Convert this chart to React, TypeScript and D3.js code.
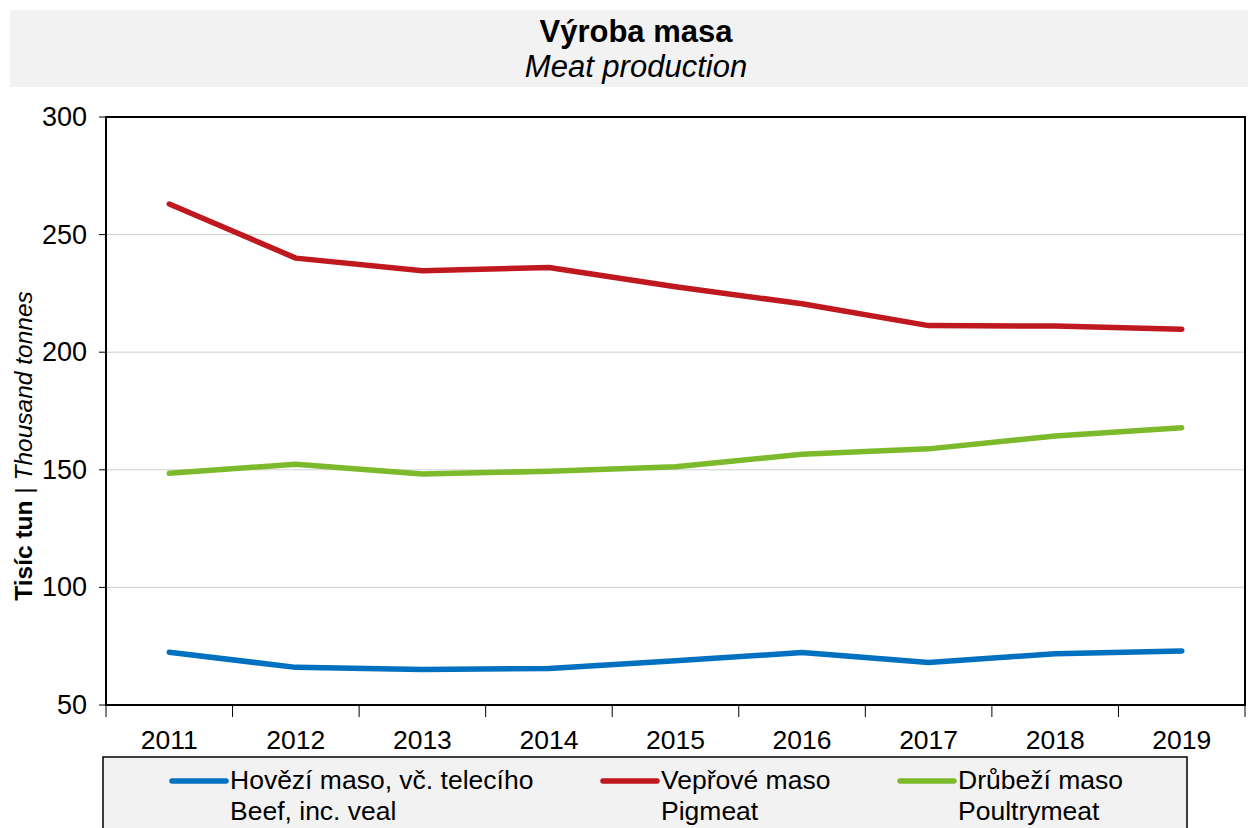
import React from 'react';
import * as d3 from 'd3';

const years = ['2011', '2012', '2013', '2014', '2015', '2016', '2017', '2018', '2019'];
const beef = [72.4, 66.0, 65.1, 65.5, 68.8, 72.3, 68.1, 71.8, 73.0];
const pig = [263.0, 240.0, 234.6, 236.0, 227.8, 220.6, 211.3, 211.1, 209.8];
const poultry = [148.5, 152.4, 148.2, 149.4, 151.3, 156.6, 158.9, 164.4, 167.9];
const yTicks = [50, 100, 150, 200, 250, 300];

const seriesNames = [
    ['Hovězí maso, vč. telecího', 'Beef, inc. veal'],
    ['Vepřové maso', 'Pigmeat'],
    ['Drůbeží maso', 'Poultrymeat'],
];
const seriesColors = ['#0070c0', '#c0181f', '#7cba2b'];

const W = 1248, H = 828;
const left = 106, right = 1245, top = 117, bottom = 705;
const font = 'Liberation Sans, Arial, sans-serif';

export default function App() {
    const x = d3.scaleBand().domain(years).range([left, right]);
    const y = d3.scaleLinear().domain([50, 300]).range([bottom, top]);
    const lineGen = d3.line<number>()
        .x((d, i) => x(years[i])! + x.bandwidth() / 2)
        .y((d) => y(d));

    const all = [beef, pig, poultry];
    // legend item x positions (line start)
    const legendX = [172, 603, 900];

    return (
        <div style={{ position: 'absolute', left: 0, top: 0 }}>
            <svg width={W} height={H} style={{ display: 'block', fontFamily: font }}>
                <rect x={0} y={0} width={W} height={H} fill="#fff" />
                {/* title band */}
                <rect x={10} y={10} width={W - 10} height={77} fill="#f2f2f2" />
                <text x={636} y={42} textAnchor="middle" fontSize={31} fontWeight="bold">Výroba masa</text>
                <text x={636} y={77} textAnchor="middle" fontSize={31} fontStyle="italic">Meat production</text>

                {/* grid */}
                {yTicks.filter((t) => t > 50 && t < 300).map((t) => (
                    <line key={'g' + t} x1={left} x2={right} y1={y(t)} y2={y(t)} stroke="#cfcfcf" strokeWidth={1} />
                ))}

                {/* y ticks */}
                {yTicks.map((t) => (
                    <g key={'y' + t}>
                        <line x1={left - 7} x2={left} y1={y(t)} y2={y(t)} stroke="#000" />
                        <text x={87} y={y(t) + 9} textAnchor="end" fontSize={27}>{t}</text>
                    </g>
                ))}

                {/* x ticks */}
                {years.map((yr) => (
                    <g key={'x' + yr}>
                        <line x1={x(yr)!} x2={x(yr)!} y1={bottom} y2={bottom + 12} stroke="#000" />
                        <text x={x(yr)! + x.bandwidth() / 2} y={749} textAnchor="middle" fontSize={26.5}>{yr}</text>
                    </g>
                ))}
                <line x1={right} x2={right} y1={bottom} y2={bottom + 12} stroke="#000" />

                {/* plot frame */}
                <rect x={left} y={top} width={right - left} height={bottom - top} fill="none" stroke="#000" strokeWidth={2} />

                {/* series */}
                {all.map((s, i) => (
                    <path key={'s' + i} d={lineGen(s)!} fill="none" stroke={seriesColors[i]} strokeWidth={5.5}
                        strokeLinecap="round" strokeLinejoin="round" />
                ))}

                {/* y axis title */}
                <text transform="translate(32,446) rotate(-90)" textAnchor="middle" fontSize={24.5}>
                    <tspan fontWeight="bold">Tisíc tun</tspan>
                    <tspan> | </tspan>
                    <tspan fontStyle="italic">Thousand tonnes</tspan>
                </text>

                {/* legend */}
                <rect x={103} y={757} width={1084} height={80} fill="#f2f2f2" stroke="#000" strokeWidth={1.5} />
                {seriesNames.map((nm, i) => (
                    <g key={'l' + i}>
                        <line x1={legendX[i]} x2={legendX[i] + 54} y1={781} y2={781} stroke={seriesColors[i]}
                            strokeWidth={5.5} strokeLinecap="round" />
                        <text x={legendX[i] + 58} y={789} fontSize={26.5}>{nm[0]}</text>
                        <text x={legendX[i] + 58} y={820} fontSize={26.5}>{nm[1]}</text>
                    </g>
                ))}
            </svg>
        </div>
    );
}
